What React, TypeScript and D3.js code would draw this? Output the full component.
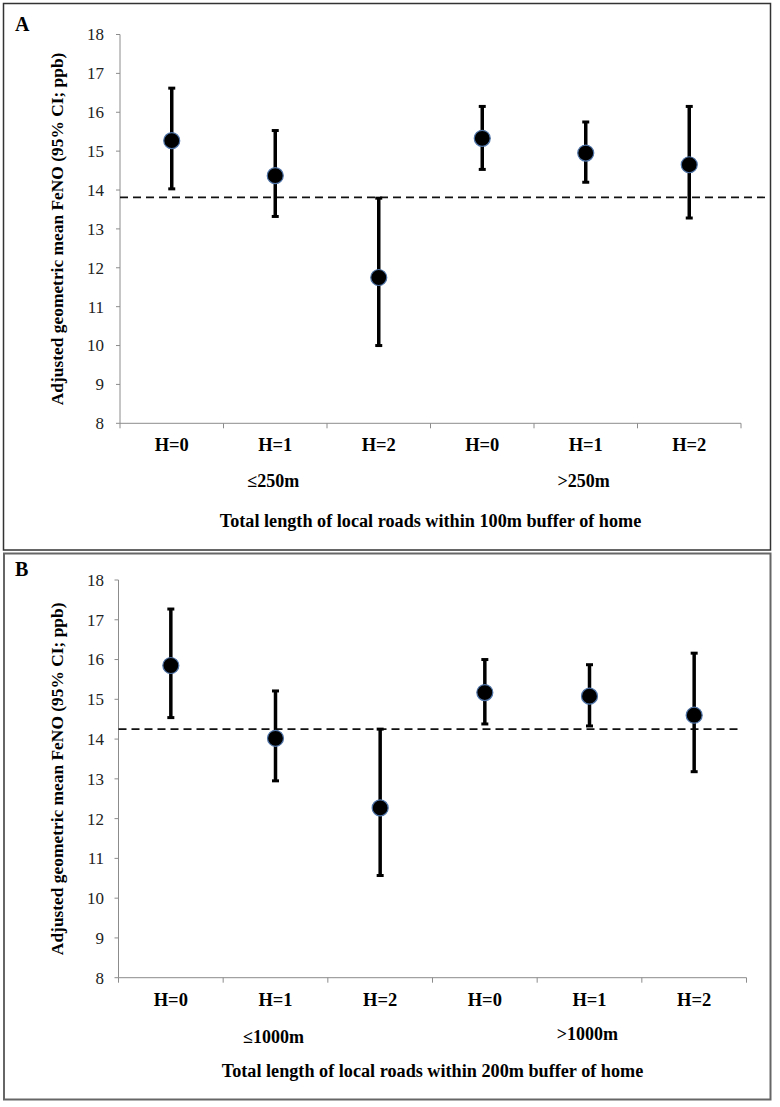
import React from "react";
import * as d3 from "d3";

// ---- Data ----
const categories = ["H=0", "H=1", "H=2", "H=0 ", "H=1 ", "H=2 "];
const yTicks = [8, 9, 10, 11, 12, 13, 14, 15, 16, 17, 18];

const groupsA = ["≤250m", ">250m"];
const meanA = [15.27, 14.37, 11.75, 15.33, 14.95, 14.65];
const lowerA = [14.03, 13.32, 10.0, 14.53, 14.2, 13.28];
const upperA = [16.62, 15.53, 13.79, 16.15, 15.75, 16.15];
const refA = 13.81;
const titleA = "Total length of local roads within 100m buffer of home";

const groupsB = ["≤1000m", ">1000m"];
const meanB = [15.85, 14.02, 12.27, 15.17, 15.08, 14.6];
const lowerB = [14.54, 12.95, 10.57, 14.38, 14.33, 13.18];
const upperB = [17.27, 15.21, 14.25, 16.0, 15.87, 16.16];
const refB = 14.25;
const titleB = "Total length of local roads within 200m buffer of home";

const yLabel = "Adjusted geometric mean FeNO (95% CI; ppb)";
const FONT = "'Liberation Serif', 'Times New Roman', serif";

type PanelProps = {
  letter: string;
  box: [number, number, number, number];
  boxStroke: string;
  boxWidth: number;
  xRange: [number, number];
  yRange: [number, number];
  mean: number[];
  lower: number[];
  upper: number[];
  refVal: number;
  refEnd: number;
  groups: string[];
  groupY: number[];
  title: string;
  titleY: number;
};

function Panel(p: PanelProps) {
  const x = d3.scaleBand<string>().domain(categories).range(p.xRange).paddingInner(0).paddingOuter(0);
  const y = d3.scaleLinear().domain([8, 18]).range(p.yRange);
  const bw = x.bandwidth();
  const cx = (i: number) => (x(categories[i]) as number) + bw / 2;
  const axisColor = "#8c8c8c";
  const boundaries = categories.map((c) => x(c) as number).concat([p.xRange[1]]);
  const yMid = (p.yRange[0] + p.yRange[1]) / 2;
  return (
    <g>
      <rect x={p.box[0]} y={p.box[1]} width={p.box[2]} height={p.box[3]} fill="white" stroke={p.boxStroke} strokeWidth={p.boxWidth} />
      <text x={15} y={p.yRange[1] - 4} fontFamily={FONT} fontWeight="bold" fontSize={20}>{p.letter}</text>
      {/* y axis */}
      <line x1={p.xRange[0]} x2={p.xRange[0]} y1={y(8)} y2={y(18)} stroke={axisColor} strokeWidth={1} />
      {yTicks.map((t) => (
        <g key={t}>
          <line x1={p.xRange[0] - 4} x2={p.xRange[0]} y1={y(t)} y2={y(t)} stroke={axisColor} strokeWidth={1} />
          <text x={104} y={y(t)} dy="0.35em" textAnchor="end" fontFamily={FONT} fontSize={17} fill="#222">{t}</text>
        </g>
      ))}
      <text transform={`translate(63,${yMid}) rotate(-90)`} textAnchor="middle" fontFamily={FONT} fontWeight="bold" fontSize={17.4}>{yLabel}</text>
      {/* x axis */}
      <line x1={p.xRange[0]} x2={p.xRange[1]} y1={y(8)} y2={y(8)} stroke={axisColor} strokeWidth={1} />
      {boundaries.map((b, i) => (
        <line key={i} x1={b} x2={b} y1={y(8)} y2={y(8) + 5} stroke={axisColor} strokeWidth={1} />
      ))}
      {categories.map((c, i) => (
        <text key={i} x={cx(i)} y={y(8) + 28} textAnchor="middle" fontFamily={FONT} fontWeight="bold" fontSize={18.5}>{c.trim()}</text>
      ))}
      {p.groups.map((g, i) => (
        <text key={g} x={cx(1 + i * 3) - 2} y={p.groupY[i]} textAnchor="middle" fontFamily={FONT} fontWeight="bold" fontSize={18}>{g}</text>
      ))}
      <text x={(p.xRange[0] + p.xRange[1]) / 2} y={p.titleY} textAnchor="middle" fontFamily={FONT} fontWeight="bold" fontSize={18.2}>{p.title}</text>
      {/* reference line */}
      <line x1={p.xRange[0]} x2={p.refEnd} y1={y(p.refVal)} y2={y(p.refVal)} stroke="#111" strokeWidth={1.6} strokeDasharray="8,5" />
      {/* error bars */}
      {p.mean.map((m, i) => (
        <g key={i}>
          <line x1={cx(i)} x2={cx(i)} y1={y(p.lower[i])} y2={y(p.upper[i])} stroke="#000" strokeWidth={3.5} />
          <line x1={cx(i) - 3.5} x2={cx(i) + 3.5} y1={y(p.upper[i])} y2={y(p.upper[i])} stroke="#000" strokeWidth={3} />
          <line x1={cx(i) - 3.5} x2={cx(i) + 3.5} y1={y(p.lower[i])} y2={y(p.lower[i])} stroke="#000" strokeWidth={3} />
          <circle cx={cx(i)} cy={y(m)} r={8} fill="#000" stroke="#4f74a8" strokeWidth={1.2} />
        </g>
      ))}
    </g>
  );
}

export default function App() {
  return (
    <div style={{ position: "absolute", left: 0, top: 0 }}>
      <svg width={780} height={1107} style={{ display: "block", background: "white" }}>
        <Panel
          letter="A"
          box={[3.5, 3.5, 767, 546.5]}
          boxStroke="#333"
          boxWidth={1.5}
          xRange={[120, 741]}
          yRange={[423.3, 34.5]}
          mean={meanA}
          lower={lowerA}
          upper={upperA}
          refVal={refA}
          refEnd={770}
          groups={groupsA}
          groupY={[487, 487]}
          title={titleA}
          titleY={527}
        />
        <Panel
          letter="B"
          box={[4, 553.5, 766.5, 546]}
          boxStroke="#666"
          boxWidth={2}
          xRange={[118.5, 746.5]}
          yRange={[977.7, 580]}
          mean={meanB}
          lower={lowerB}
          upper={upperB}
          refVal={refB}
          refEnd={740}
          groups={groupsB}
          groupY={[1043, 1040]}
          title={titleB}
          titleY={1077}
        />
      </svg>
    </div>
  );
}
